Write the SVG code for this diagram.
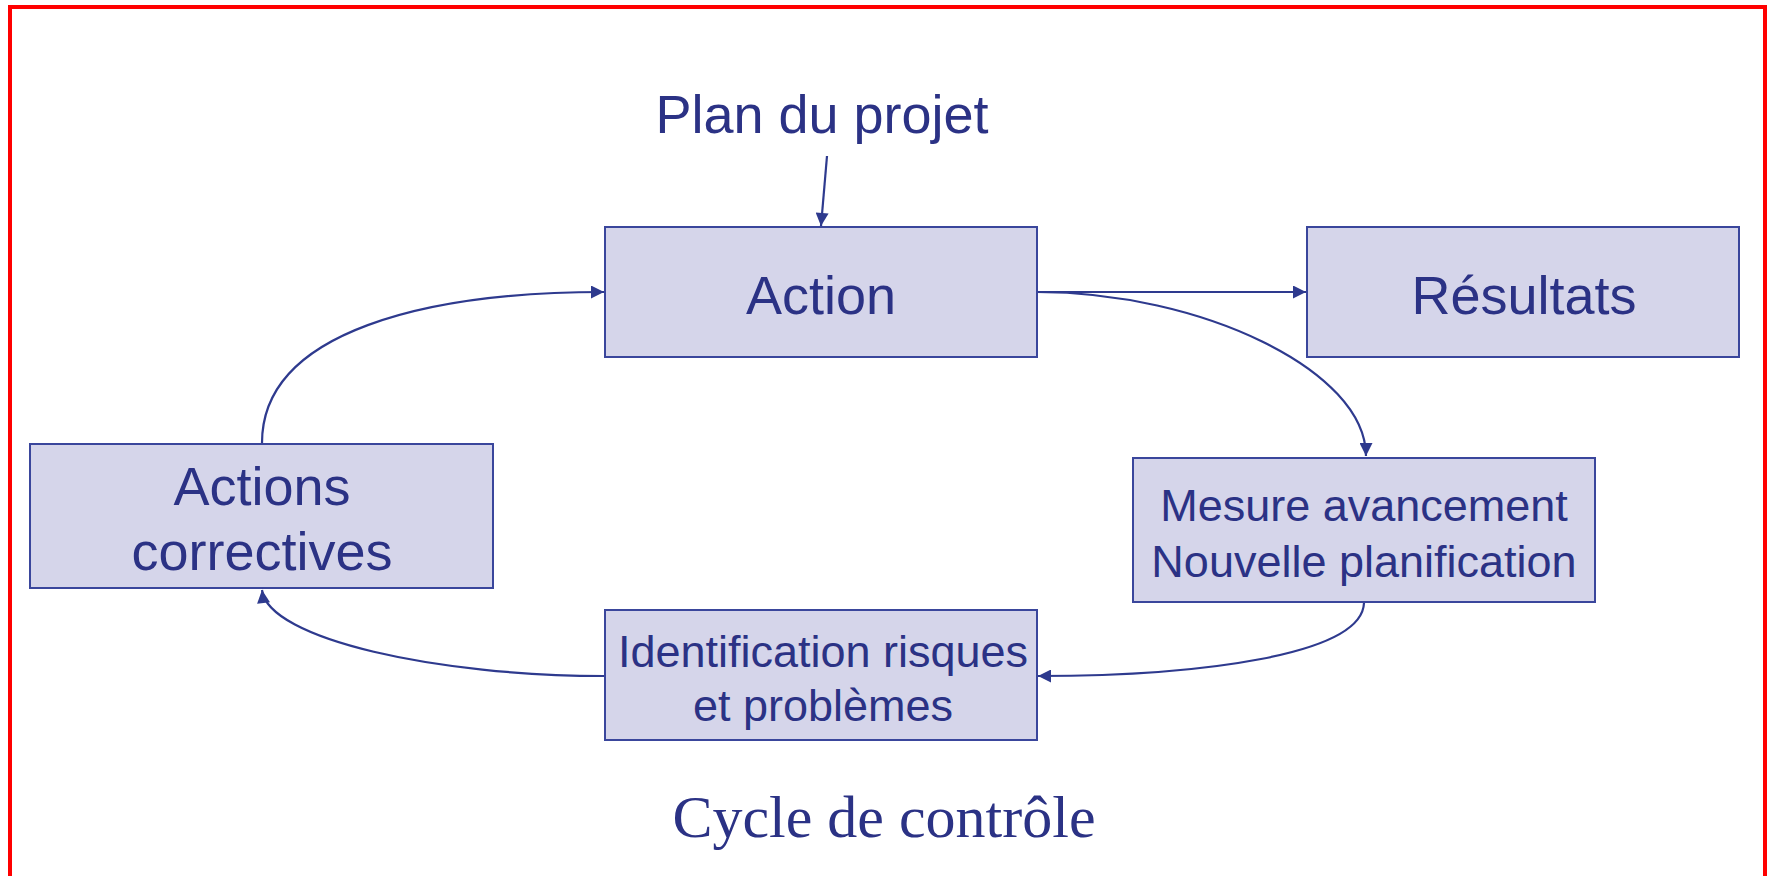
<svg xmlns="http://www.w3.org/2000/svg" width="1771" height="876" viewBox="0 0 1771 876">
  <style>
    .box { fill: #D5D5EA; stroke: #3A469C; stroke-width: 2; }
    .lbl { font-family: "Liberation Sans", Arial, sans-serif; fill: #2B3285; text-anchor: middle; }
    .big { font-size: 54px; }
    .mid { font-size: 45px; }
    .conn { fill: none; stroke: #2E3A8E; stroke-width: 2.2; marker-end: url(#arr); }
  </style>
  <defs>
    <marker id="arr" viewBox="0 0 10 10" refX="10" refY="5" markerWidth="15" markerHeight="13" markerUnits="userSpaceOnUse" orient="auto">
      <path d="M0,0 L10,5 L0,10 z" fill="#2E3A8E"/>
    </marker>
  </defs>
  <rect x="0" y="0" width="1771" height="876" fill="#FFFFFF"/>
  <path d="M10,900 L10,7 L1765,7 L1765,900" fill="none" stroke="#FF0000" stroke-width="4"/>

  <g id="connectors">
    <path class="conn" d="M827,156 L821,226"/>
    <path class="conn" d="M1037,292 L1306,292"/>
    <path class="conn" d="M1037,292 C1200,292 1366,370 1366,456"/>
    <path class="conn" d="M1364,603 C1362,655 1200,676 1038,676"/>
    <path class="conn" d="M604,676 C440,676 268,640 262,590"/>
    <path class="conn" d="M262,443 C262,330 430,292 604,292"/>
  </g>

  <g id="plan">
    <text class="lbl big" x="822" y="133">Plan du projet</text>
  </g>
  <g id="action">
    <rect class="box" x="605" y="227" width="432" height="130"/>
    <text class="lbl big" x="821" y="314">Action</text>
  </g>
  <g id="resultats">
    <rect class="box" x="1307" y="227" width="432" height="130"/>
    <text class="lbl big" x="1524" y="314">Résultats</text>
  </g>
  <g id="mesure">
    <rect class="box" x="1133" y="458" width="462" height="144"/>
    <text class="lbl mid" x="1364" y="521">Mesure avancement</text>
    <text class="lbl mid" x="1364" y="577">Nouvelle planification</text>
  </g>
  <g id="identification">
    <rect class="box" x="605" y="610" width="432" height="130"/>
    <text class="lbl mid" x="823" y="667">Identification risques</text>
    <text class="lbl mid" x="823" y="721">et problèmes</text>
  </g>
  <g id="actions-correctives">
    <rect class="box" x="30" y="444" width="463" height="144"/>
    <text class="lbl big" x="262" y="505">Actions</text>
    <text class="lbl big" x="262" y="570">correctives</text>
  </g>
  <g id="titre">
    <text x="884" y="837" font-family="'Liberation Serif', 'Times New Roman', serif" font-size="60" fill="#2B3285" text-anchor="middle">Cycle de contrôle</text>
  </g>
</svg>
